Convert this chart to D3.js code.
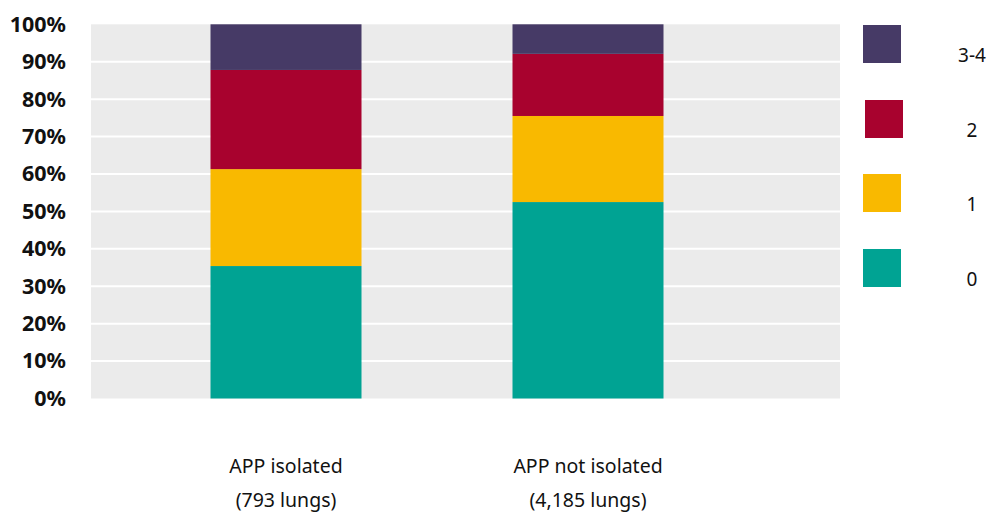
<!DOCTYPE html>
<html>
<head>
<meta charset="utf-8">
<script src="https://cdn.jsdelivr.net/npm/d3@7"></script>
<style>
  body { margin: 0; background: #fff; }
  svg { display: block; font-family: "Noto Sans", "Open Sans", sans-serif; }
</style>
</head>
<body>
<svg id="chart"></svg>
<script>
// groups on the x axis
const groups = ["APP isolated", "APP not isolated"];
const groupNotes = ["(793 lungs)", "(4,185 lungs)"];

// stacked series (percent of lungs), bottom to top
const seriesKeys = ["0", "1", "2", "3-4"];
const score0 = [35.4, 52.5];
const score1 = [25.9, 23.0];
const score2 = [26.5, 16.6];
const score34 = [12.2, 7.9];

const yTicks = [0, 10, 20, 30, 40, 50, 60, 70, 80, 90, 100];

const colors = {"0": "#00a393", "1": "#f9b900", "2": "#a8022e", "3-4": "#463a66"};

const width = 989, height = 515;
const plot = {left: 91, right: 840, top: 24.3, bottom: 398.5};

const svg = d3.select("#chart")
    .attr("width", width)
    .attr("height", height);

// build the table the stack wants
const table = groups.map((g, i) => ({
    group: g,
    "0": score0[i],
    "1": score1[i],
    "2": score2[i],
    "3-4": score34[i]
}));

const stacked = d3.stack().keys(seriesKeys)(table);

const x = d3.scaleBand()
    .domain(groups)
    .range([135, 739])
    .paddingInner(0.5)
    .paddingOuter(0.25);

const y = d3.scaleLinear()
    .domain([0, 100])
    .range([plot.bottom, plot.top]);

// grey plot background
svg.append("rect")
    .attr("x", plot.left)
    .attr("y", plot.top)
    .attr("width", plot.right - plot.left)
    .attr("height", plot.bottom - plot.top)
    .attr("fill", "#ebebeb");

// white gridlines
svg.append("g")
    .selectAll("line")
    .data(yTicks.filter(t => t > 0 && t < 100))
    .enter().append("line")
    .attr("x1", plot.left)
    .attr("x2", plot.right)
    .attr("y1", d => y(d))
    .attr("y2", d => y(d))
    .attr("stroke", "#fff")
    .attr("stroke-width", 2);

// bars
svg.append("g")
    .selectAll("g")
    .data(stacked)
    .enter().append("g")
    .attr("fill", d => colors[d.key])
    .selectAll("rect")
    .data(d => d)
    .enter().append("rect")
    .attr("x", d => x(d.data.group))
    .attr("width", x.bandwidth())
    .attr("y", d => y(d[1]))
    .attr("height", d => y(d[0]) - y(d[1]));

// y axis labels
const yAxis = svg.append("g")
    .attr("transform", `translate(${plot.left},0)`)
    .call(d3.axisLeft(y).tickValues(yTicks).tickFormat(d => d + "%").tickSize(0).tickPadding(25));
yAxis.select(".domain").remove();
yAxis.selectAll("text")
    .attr("font-family", "'Noto Sans', sans-serif")
    .attr("font-size", 21.5)
    .attr("font-weight", "bold")
    .attr("fill", "#111");

// x labels, two lines each
const xl = svg.append("g").selectAll("g")
    .data(groups)
    .enter().append("g")
    .attr("transform", d => `translate(${x(d) + x.bandwidth() / 2},0)`);
xl.append("text")
    .attr("y", 473)
    .attr("text-anchor", "middle")
    .attr("font-size", 19.5)
    .attr("fill", "#111")
    .text(d => d);
xl.append("text")
    .attr("y", 507)
    .attr("text-anchor", "middle")
    .attr("font-size", 19.5)
    .attr("fill", "#111")
    .text((d, i) => groupNotes[i]);

// legend
const legendY = [25, 100, 174, 249];
const legendOrder = seriesKeys.slice().reverse();
const lg = svg.append("g").selectAll("g")
    .data(legendOrder)
    .enter().append("g");
lg.append("rect")
    .attr("x", (d, i) => i === 1 ? 865 : 863)
    .attr("y", (d, i) => legendY[i])
    .attr("width", 38)
    .attr("height", 38)
    .attr("fill", d => colors[d]);
lg.append("text")
    .attr("x", 972)
    .attr("y", (d, i) => legendY[i] + 37)
    .attr("text-anchor", "middle")
    .attr("font-size", 19)
    .attr("fill", "#111")
    .text(d => d);
</script>
</body>
</html>
